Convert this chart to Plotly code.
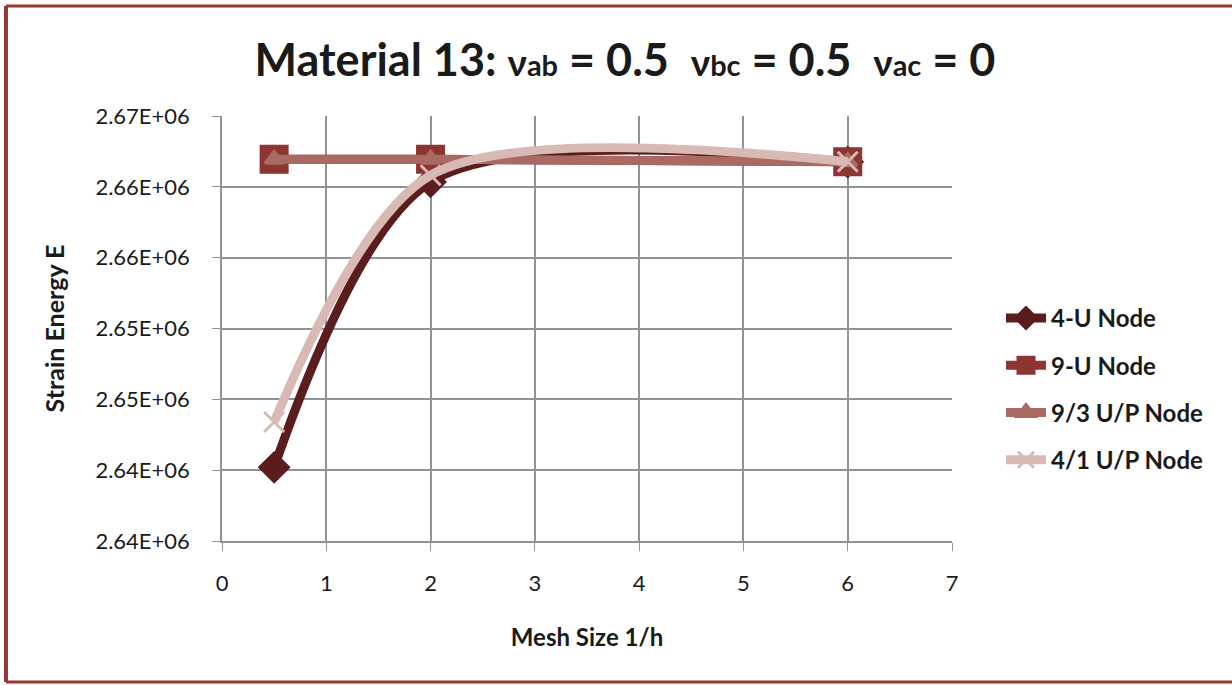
import plotly.graph_objects as go

# Mesh size 1/h and strain energy for each element type
mesh_size = [0.5, 2, 6]
e_4u = [2640200, 2660350, 2661750]
e_9u = [2661950, 2661950, 2661770]
e_93up = [2661950, 2661950, 2661770]
e_41up = [2643400, 2660820, 2661770]

series_names = ["4-U Node", "9-U Node", "9/3 U/P Node", "4/1 U/P Node"]

y_tickvals = [2635000, 2640000, 2645000, 2650000, 2655000, 2660000, 2665000]
y_ticktext = ["2.64E+06", "2.64E+06", "2.65E+06", "2.65E+06", "2.66E+06", "2.66E+06", "2.67E+06"]
x_tickvals = [0, 1, 2, 3, 4, 5, 6, 7]

W, H = 1232, 685
ML, MR, MT, MB = 222, 280, 116, 144
PW, PH = W - ML - MR, H - MT - MB

FONT = "Lato, 'Open Sans', sans-serif"
TXT = "#1a1a1a"
GRID = "#8c9494"

styles = [
    dict(color="#5a1c1c", symbol="diamond", size=22),
    dict(color="#8d3530", symbol="square", size=26),
    dict(color="#a86a62", symbol="triangle-up", size=16),
    dict(color="#d8b9b3", symbol="x-thin", size=20),
]
values = [e_4u, e_9u, e_93up, e_41up]

fig = go.Figure()
for i, (name, ys, st) in enumerate(zip(series_names, values, styles)):
    fig.add_trace(go.Scatter(
        x=mesh_size, y=ys, name=name, mode="lines+markers",
        legendgroup=f"g{i}",
        line=dict(color=st["color"], width=9, shape="spline", smoothing=0.85),
        marker=dict(symbol=st["symbol"], size=st["size"], color=st["color"],
                    line=dict(color=st["color"], width=3)),
    ))

def px_x(p):
    return (p - ML) / PW

def px_y(p):
    return (H - MB - p) / PH

# outer frame (left, top and bottom edges)
frame = "#943a32"
fig.add_shape(type="line", xref="paper", yref="paper",
              x0=px_x(6), x1=px_x(6), y0=px_y(6), y1=px_y(682),
              line=dict(color=frame, width=4))
fig.add_shape(type="line", xref="paper", yref="paper",
              x0=px_x(6), x1=px_x(1232), y0=px_y(6), y1=px_y(6),
              line=dict(color=frame, width=3))
fig.add_shape(type="line", xref="paper", yref="paper",
              x0=px_x(6), x1=px_x(1232), y0=px_y(682), y1=px_y(682),
              line=dict(color=frame, width=3))

def nu(sub):
    return ("<span style='font-size:37px'>ν</span>"
            f"<span style='font-size:29px'>{sub}</span>")

title_text = f"Material 13: {nu('ab')} = 0.5  {nu('bc')} = 0.5  {nu('ac')} = 0"

fig.update_layout(
    width=W, height=H,
    margin=dict(l=ML, r=MR, t=MT, b=MB),
    paper_bgcolor="white", plot_bgcolor="white",
    font=dict(family=FONT, color=TXT),
    title=dict(
        text=title_text,
        x=px_x(625), xref="paper", xanchor="center",
        y=1 - 60 / H, yanchor="middle",
        font=dict(family=FONT, size=45, color=TXT, weight="bold"),
    ),
    xaxis=dict(
        range=[0, 7], tickvals=x_tickvals,
        showgrid=True, gridcolor=GRID, gridwidth=1.5,
        showline=True, linecolor=GRID, linewidth=1.5,
        ticks="outside", ticklen=8, tickcolor=GRID,
        tickfont=dict(size=22, color=TXT), ticklabelstandoff=14,
        zeroline=False,
        title=dict(text="<b>Mesh Size 1/h</b>", font=dict(size=24, color=TXT), standoff=34),
    ),
    yaxis=dict(
        range=[2635000, 2665000], tickvals=y_tickvals, ticktext=y_ticktext,
        showgrid=True, gridcolor=GRID, gridwidth=1.5,
        showline=True, linecolor=GRID, linewidth=1.5,
        ticks="outside", ticklen=8, tickcolor=GRID,
        tickfont=dict(size=22, color=TXT), ticklabelstandoff=18,
        zeroline=False,
        title=dict(text="<b>Strain Energy E</b>", font=dict(size=25, color=TXT), standoff=24),
    ),
    legend=dict(
        x=px_x(1001), y=px_y(296), xanchor="left", yanchor="top",
        font=dict(size=24, color=TXT, weight="bold"),
        tracegroupgap=13, itemwidth=40,
        bgcolor="rgba(0,0,0,0)",
    ),
)

fig.write_html("out.html")
